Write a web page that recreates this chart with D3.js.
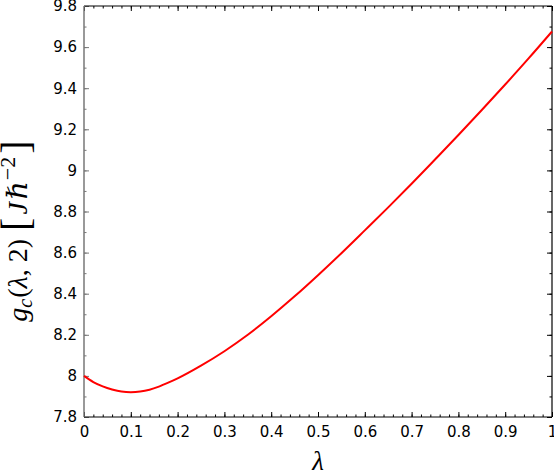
<!DOCTYPE html>
<html>
<head>
<meta charset="utf-8">
<script src="https://cdn.jsdelivr.net/npm/d3@7"></script>
<style>
  body { margin: 0; background: #fff; }
  text { font-family: "DejaVu Sans", sans-serif; }
</style>
</head>
<body>
<svg id="chart" width="554" height="474"></svg>
<script>
// Data
const lambdas = [0, 0.02, 0.04, 0.06, 0.08, 0.10, 0.12, 0.14, 0.16, 0.18, 0.20,
  0.25, 0.30, 0.35, 0.40, 0.45, 0.50, 0.55, 0.60, 0.65, 0.70, 0.75, 0.80, 0.85, 0.90, 0.95, 1.00];
const gValues = [8.000, 7.970, 7.949, 7.934, 7.924, 7.921, 7.924, 7.933, 7.948, 7.967, 7.988,
  8.050, 8.120, 8.200, 8.290, 8.387, 8.490, 8.597, 8.708, 8.820, 8.935, 9.053, 9.172, 9.294, 9.418, 9.545, 9.676];
const xTicks = [0, 0.1, 0.2, 0.3, 0.4, 0.5, 0.6, 0.7, 0.8, 0.9, 1];
const yTicks = [7.8, 8, 8.2, 8.4, 8.6, 8.8, 9, 9.2, 9.4, 9.6, 9.8];

const margin = { top: 6, right: 2, bottom: 57, left: 84 };
const width = 554 - margin.left - margin.right;
const height = 474 - margin.top - margin.bottom;

const svg = d3.select('#chart')
  .append('g')
  .attr('transform', `translate(${margin.left}, ${margin.top})`);

// Scales
const xScale = d3.scaleLinear().domain([0, 1]).range([0, width]);
const yScale = d3.scaleLinear().domain([7.8, 9.8]).range([height, 0]);

const fmt = d => (d === 0 || d === 1 || d === 8 || d === 9) ? String(d) : d3.format('.1f')(d);
const xMinor = d3.range(0, 1.0001, 0.02);
const yMinor = d3.range(7.8, 9.8001, 0.1);

// Axes: ticks pointing inward on all four sides
function styleAxis(g, color) {
  g.select('.domain').remove();
  g.selectAll('line').attr('stroke', color);
  g.selectAll('text').attr('fill', '#000').style('font-size', '15px');
}

// minor ticks
svg.append('g').attr('transform', `translate(0, ${height})`)
  .call(d3.axisBottom(xScale).tickValues(xMinor).tickSize(-2.5).tickFormat(''))
  .call(g => styleAxis(g, '#000'));
svg.append('g')
  .call(d3.axisTop(xScale).tickValues(xMinor).tickSize(-2.5).tickFormat(''))
  .call(g => styleAxis(g, '#000'));
svg.append('g')
  .call(d3.axisLeft(yScale).tickValues(yMinor).tickSize(-2.5).tickFormat(''))
  .call(g => styleAxis(g, '#777'));
svg.append('g').attr('transform', `translate(${width}, 0)`)
  .call(d3.axisRight(yScale).tickValues(yMinor).tickSize(-2.5).tickFormat(''))
  .call(g => styleAxis(g, '#000'));

// major ticks with labels
svg.append('g').attr('transform', `translate(0, ${height})`)
  .call(d3.axisBottom(xScale).tickValues(xTicks).tickSize(-5).tickPadding(9).tickFormat(fmt))
  .call(g => styleAxis(g, '#000'));
svg.append('g')
  .call(d3.axisTop(xScale).tickValues(xTicks).tickSize(-5).tickFormat(''))
  .call(g => styleAxis(g, '#000'));
svg.append('g')
  .call(d3.axisLeft(yScale).tickValues(yTicks).tickSize(-5).tickPadding(7).tickFormat(fmt))
  .call(g => styleAxis(g, '#777'));
svg.append('g').attr('transform', `translate(${width}, 0)`)
  .call(d3.axisRight(yScale).tickValues(yTicks).tickSize(-5).tickFormat(''))
  .call(g => styleAxis(g, '#000'));

// Spines
svg.append('line').attr('x1', 0).attr('x2', width).attr('y1', height).attr('y2', height)
  .attr('stroke', '#000').attr('stroke-width', 1.2);
svg.append('line').attr('x1', 0).attr('x2', width).attr('y1', 0).attr('y2', 0)
  .attr('stroke', '#000').attr('stroke-width', 1.2);
svg.append('line').attr('x1', width).attr('x2', width).attr('y1', 0).attr('y2', height)
  .attr('stroke', '#000').attr('stroke-width', 1.2);
svg.append('line').attr('x1', 0).attr('x2', 0).attr('y1', 0).attr('y2', height)
  .attr('stroke', '#777').attr('stroke-width', 1.5);

// Curve
const line = d3.line()
  .x((d, i) => xScale(lambdas[i]))
  .y(d => yScale(d))
  .curve(d3.curveMonotoneX);

svg.append('path')
  .datum(gValues)
  .attr('fill', 'none')
  .attr('stroke', '#ff0000')
  .attr('stroke-width', 2)
  .attr('d', line);

// Axis titles
const serif = '"Liberation Serif", "DejaVu Serif", serif';
svg.append('text')
  .attr('x', width / 2)
  .attr('y', height + 53)
  .attr('text-anchor', 'middle')
  .style('font-family', serif)
  .style('font-style', 'italic')
  .style('font-size', '27px')
  .text('λ');

const ylab = svg.append('text')
  .attr('transform', `translate(${-57}, ${225}) rotate(-90)`)
  .attr('text-anchor', 'middle')
  .style('font-family', serif)
  .style('font-size', '28px');
ylab.append('tspan').style('font-style', 'italic').text('g');
ylab.append('tspan').style('font-style', 'italic').style('font-size', '20px').attr('dy', 5).text('c');
ylab.append('tspan').attr('dy', -5).attr('dx', 1).text('(');
ylab.append('tspan').style('font-style', 'italic').text('λ');
ylab.append('tspan').text(', 2)');
ylab.append('tspan').style('font-size', '40px').attr('dx', 8).attr('dy', 2).text('[');
ylab.append('tspan').style('font-style', 'italic').attr('dx', 3).attr('dy', -2).text('J');
ylab.append('tspan').style('font-style', 'italic').attr('dx', 3).text('ℏ');
ylab.append('tspan').style('font-size', '22px').attr('dx', 1).attr('dy', -12).text('−2');
ylab.append('tspan').style('font-size', '40px').attr('dx', 3).attr('dy', 14).text(']');
</script>
</body>
</html>
